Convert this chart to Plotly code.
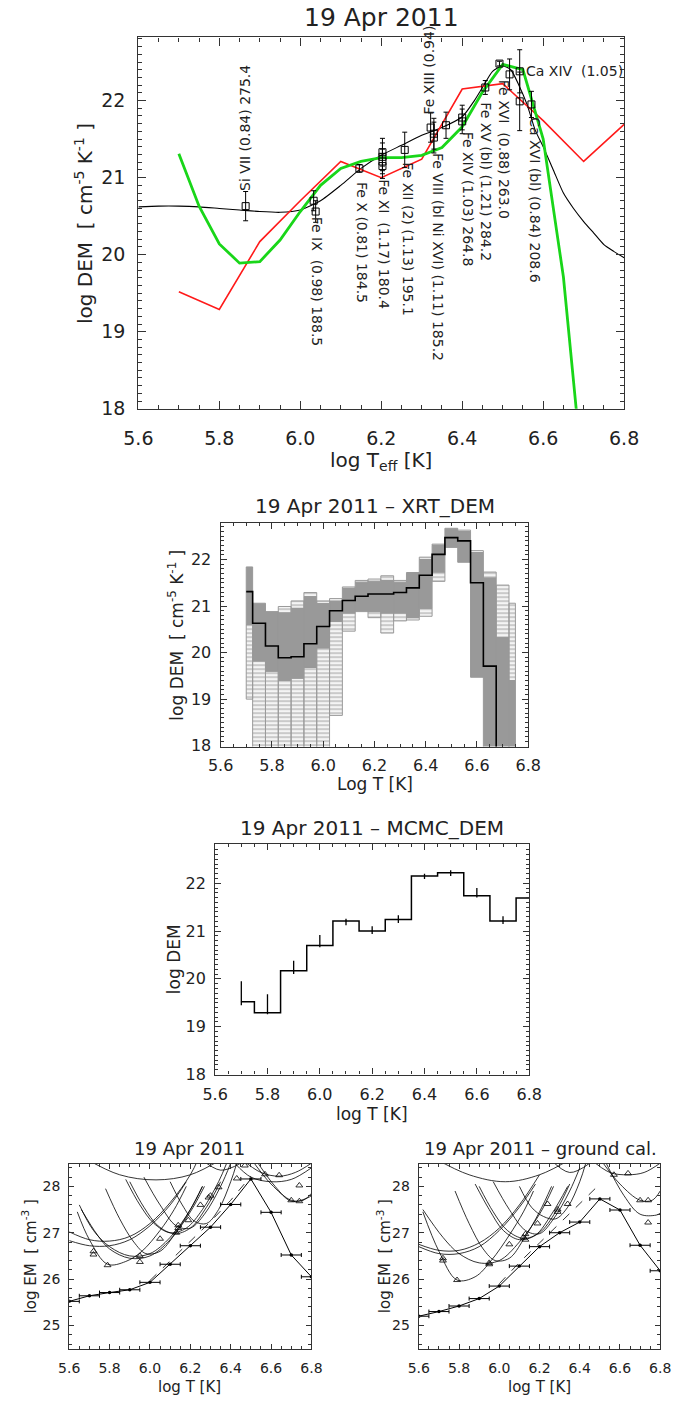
import numpy as np
import plotly.graph_objects as go

W, H = 686, 1405
FONT = "DejaVu Sans"
TXT = "#222222"
AX = "#333333"

def px(x):
    return x / W

def py(y):
    return 1 - y / H

# ---------------- Panel 1 : 19 Apr 2011 (DEM + lines) ----------------
curve_T = [5.60, 5.65, 5.70, 5.75, 5.80, 5.85, 5.90, 5.95, 6.00, 6.05, 6.10, 6.15, 6.20, 6.25,
           6.30, 6.35, 6.40, 6.43, 6.45, 6.475, 6.50, 6.52, 6.54, 6.56, 6.58, 6.60, 6.625, 6.65,
           6.675, 6.70, 6.725, 6.75, 6.775, 6.80]
curve_dem = [20.62, 20.63, 20.63, 20.62, 20.60, 20.58, 20.56, 20.55, 20.58, 20.70, 20.90, 21.12,
             21.29, 21.42, 21.55, 21.65, 21.79, 22.00, 22.17, 22.38, 22.45, 22.40, 22.20, 21.95,
             21.62, 21.40, 21.10, 20.80, 20.60, 20.43, 20.28, 20.13, 20.04, 19.96]

mcmc_T = [5.7, 5.8, 5.9, 6.0, 6.1, 6.2, 6.3, 6.4, 6.5, 6.6, 6.7, 6.8]
mcmc_dem = [19.52, 19.29, 20.17, 20.70, 21.21, 21.00, 21.24, 22.15, 22.22, 21.74, 21.21, 21.69]
mcmc_err_hi = [0.43, 0.39, 0.21, 0.22, 0.05, 0.10, 0.09, 0.05, 0.05, 0.16, 0.10, 0.0]
mcmc_err_lo = [0.07, 0.03, 0.07, 0.04, 0.09, 0.06, 0.07, 0.06, 0.07, 0.04, 0.06, 0.0]

xrt_T = [5.70, 5.75, 5.80, 5.85, 5.90, 5.95, 6.00, 6.05, 6.10, 6.15, 6.20, 6.25, 6.30, 6.35,
         6.40, 6.45, 6.50, 6.55, 6.60, 6.65, 6.70, 6.75]
xrt_dem = [21.31, 20.63, 20.14, 19.89, 19.91, 20.19, 20.56, 20.90, 21.12, 21.21, 21.26, 21.26,
           21.29, 21.39, 21.66, 22.11, 22.47, 22.40, 21.50, 19.71, 17.00, 16.50]
# Monte-Carlo spread of the XRT_DEM solutions per bin
xrt_mc_max = [21.84, 21.06, 20.88, 20.99, 21.11, 21.29, 21.11, 21.16, 21.41, 21.55, 21.58, 21.65,
              21.55, 21.72, 22.05, 22.33, 22.67, 22.63, 22.19, 21.73, 21.45, 21.06]
xrt_mc_dhi = [21.84, 21.06, 20.88, 20.85, 20.95, 21.20, 21.05, 21.10, 21.38, 21.50, 21.52, 21.55,
              21.50, 21.70, 22.00, 22.30, 22.65, 22.60, 22.15, 21.60, 20.32, 19.40]
xrt_mc_dlo = [20.60, 19.82, 19.60, 19.40, 19.45, 19.68, 20.10, 20.67, 20.85, 20.88, 20.88, 20.85,
              20.85, 20.75, 20.95, 21.73, 22.26, 21.94, 19.47, 17.90, 17.90, 17.90]
xrt_mc_min = [19.00, 17.90, 17.90, 17.90, 17.90, 17.90, 17.90, 18.65, 20.46, 20.88, 20.75, 20.42,
              20.68, 20.70, 20.78, 21.53, 22.26, 21.94, 19.47, 17.90, 17.90, 17.90]

obs_T = [5.865, 6.033, 6.038, 6.146, 6.203, 6.203, 6.203, 6.203, 6.258, 6.322, 6.330, 6.330,
         6.360, 6.400, 6.400, 6.457, 6.492, 6.517, 6.542, 6.542, 6.571]
obs_dem = [20.63, 20.70, 20.56, 21.12, 21.33, 21.27, 21.21, 21.15, 21.36, 21.65, 21.57, 21.52,
           21.68, 21.78, 21.73, 22.17, 22.48, 22.34, 22.38, 21.99, 21.95]
obs_err = [0.19, 0.13, 0.14, 0.05, 0.18, 0.18, 0.16, 0.16, 0.23, 0.19, 0.20, 0.20,
           0.17, 0.16, 0.16, 0.09, 0.03, 0.20, 0.28, 0.38, 0.17]

line_labels = ["Si VII (0.84) 275.4", "Fe IX  (0.98) 188.5", "Fe X (0.81) 184.5",
               "Fe XI  (1.17) 180.4", "Fe XII (2) (1.13) 195.1", "Fe XIII (0.94)",
               "Fe VIII (bl Ni XVI) (1.11) 185.2", "Fe XIV (1.03) 264.8",
               "Fe XV (bl) (1.21) 284.2", "Fe XVI  (0.88) 263.0", "Ca XIV  (1.05)",
               "Ca XVI (bl) (0.84) 208.6"]
label_T = [5.862, 6.040, 6.153, 6.207, 6.264, 6.318, 6.339, 6.413, 6.460, 6.505, 6.554, 6.578]
label_dem = [20.82, 20.50, 20.96, 20.99, 21.21, 21.80, 21.34, 21.61, 21.99, 22.28, 22.38, 21.80]
label_dir = ["up", "down", "down", "down", "down", "up", "down", "down", "down", "down",
             "right", "down"]

# ---------------- Panels 4/5 : EM loci ----------------
em_T = [5.6, 5.7, 5.8, 5.9, 6.0, 6.1, 6.2, 6.3, 6.4, 6.5, 6.6, 6.7, 6.8]
em_left = [25.52, 25.64, 25.71, 25.77, 25.93, 26.32, 26.72, 27.12, 27.61, 28.16, 27.44, 26.52, 26.05]
em_right = [25.20, 25.30, 25.42, 25.58, 25.85, 26.28, 26.70, 27.00, 27.23, 27.73, 27.49, 26.73, 26.18]

dash_T = [6.0, 6.1, 6.2, 6.3, 6.4, 6.5]
dash_left = [25.97, 26.40, 26.82, 27.24, 27.70, 28.22]
dash_right = [25.90, 26.36, 26.78, 27.20, 27.62, 28.05]

tri_T_left = [5.72, 5.72, 5.79, 5.95, 5.95, 6.05, 6.13, 6.14, 6.14, 6.19, 6.25, 6.29, 6.30, 6.34,
              6.43, 6.47, 6.57, 6.64, 6.70, 6.74, 6.74]
tri_em_left = [26.60, 26.53, 26.30, 26.50, 26.37, 26.87, 27.00, 27.10, 27.16, 27.27, 27.60, 27.76,
               27.80, 27.98, 28.17, 28.45, 28.26, 28.24, 27.70, 27.68, 28.02]
tri_T_right = [5.72, 5.72, 5.79, 5.95, 5.95, 6.05, 6.12, 6.13, 6.13, 6.19, 6.24, 6.29, 6.29, 6.34,
               6.57, 6.64, 6.70, 6.74, 6.74]
tri_em_right = [26.45, 26.40, 25.98, 26.35, 26.32, 26.75, 26.90, 26.97, 26.85, 27.20, 27.62, 27.50,
                27.45, 27.62, 28.25, 28.28, 27.70, 27.70, 27.22]

loci_left = [
    [(5.68, 28.6), (5.85, 28.25), (6.03, 28.14), (6.20, 28.25), (6.36, 28.6)],
    [(5.60, 27.02), (5.70, 26.85), (5.80, 26.82), (5.90, 26.92), (6.00, 27.20), (6.10, 27.65), (6.20, 28.25), (6.24, 28.6)],
    [(5.60, 26.83), (5.70, 26.72), (5.80, 26.72), (5.90, 26.85), (6.00, 27.15), (6.10, 27.60), (6.18, 28.10)],
    [(5.65, 27.60), (5.72, 27.05), (5.80, 26.70), (5.90, 26.50), (6.00, 26.55), (6.10, 26.90), (6.20, 27.50), (6.26, 28.00)],
    [(5.66, 27.50), (5.74, 26.95), (5.80, 26.65), (5.90, 26.45), (6.00, 26.50), (6.10, 26.85), (6.20, 27.45), (6.27, 28.00)],
    [(5.64, 27.45), (5.70, 26.85), (5.79, 26.32), (5.88, 26.38), (5.96, 26.60), (6.05, 27.05), (6.12, 27.50), (6.18, 28.00)],
    [(5.78, 27.95), (5.85, 27.30), (5.92, 26.80), (5.98, 26.55), (6.05, 26.60), (6.12, 26.95), (6.20, 27.50), (6.26, 28.00)],
    [(5.88, 28.15), (5.95, 27.60), (6.02, 27.20), (6.10, 27.00), (6.18, 27.10), (6.26, 27.50), (6.34, 28.10), (6.38, 28.5)],
    [(5.90, 28.10), (5.97, 27.55), (6.04, 27.15), (6.12, 26.98), (6.20, 27.10), (6.28, 27.55), (6.35, 28.10)],
    [(5.97, 28.20), (6.05, 27.60), (6.13, 27.15), (6.20, 27.10), (6.27, 27.40), (6.35, 28.00), (6.40, 28.5)],
    [(6.10, 28.10), (6.16, 27.60), (6.22, 27.25), (6.28, 27.20), (6.34, 27.50), (6.40, 28.10), (6.43, 28.5)],
    [(6.25, 28.6), (6.35, 28.35), (6.45, 28.5)],
    [(6.45, 28.6), (6.55, 28.30), (6.64, 28.22), (6.72, 28.30), (6.80, 28.50)],
    [(6.50, 28.6), (6.60, 28.05), (6.70, 27.70), (6.76, 27.70), (6.80, 27.85)],
    [(6.52, 28.6), (6.62, 28.00), (6.70, 27.68), (6.78, 27.75), (6.80, 27.80)],
    [(6.42, 28.5), (6.50, 28.20), (6.60, 28.10), (6.70, 28.15), (6.80, 28.40)],
]
loci_right = [
    [(5.68, 28.6), (5.85, 28.25), (6.03, 28.10), (6.20, 28.25), (6.36, 28.6)],
    [(5.60, 26.75), (5.70, 26.62), (5.80, 26.62), (5.90, 26.78), (6.00, 27.10), (6.10, 27.60), (6.20, 28.25)],
    [(5.60, 26.70), (5.70, 26.55), (5.80, 26.55), (5.90, 26.70), (6.00, 27.05), (6.10, 27.55), (6.18, 28.05)],
    [(5.62, 27.50), (5.72, 26.90), (5.80, 26.55), (5.90, 26.35), (6.00, 26.40), (6.10, 26.80), (6.20, 27.40), (6.27, 28.00)],
    [(5.62, 27.45), (5.70, 26.60), (5.79, 25.98), (5.88, 26.05), (5.96, 26.40), (6.05, 26.95), (6.12, 27.45), (6.17, 27.90)],
    [(5.78, 27.90), (5.85, 27.20), (5.92, 26.65), (5.98, 26.40), (6.05, 26.45), (6.12, 26.85), (6.20, 27.45), (6.26, 28.00)],
    [(5.88, 28.05), (5.95, 27.50), (6.02, 27.05), (6.10, 26.85), (6.18, 26.95), (6.26, 27.40), (6.34, 28.00)],
    [(5.90, 28.00), (5.97, 27.45), (6.04, 27.05), (6.12, 26.88), (6.20, 27.00), (6.28, 27.45), (6.35, 28.05)],
    [(5.97, 28.10), (6.05, 27.50), (6.13, 27.05), (6.20, 26.98), (6.27, 27.30), (6.35, 27.90), (6.40, 28.4)],
    [(6.10, 28.00), (6.16, 27.55), (6.22, 27.35), (6.28, 27.30), (6.34, 27.55), (6.40, 28.10), (6.43, 28.5)],
    [(6.25, 28.6), (6.35, 28.30), (6.45, 28.5)],
    [(6.45, 28.6), (6.55, 28.30), (6.64, 28.25), (6.72, 28.30), (6.80, 28.50)],
    [(6.50, 28.6), (6.60, 28.05), (6.70, 27.70), (6.76, 27.70), (6.80, 27.90)],
    [(6.52, 28.6), (6.62, 27.80), (6.70, 27.40), (6.78, 27.38), (6.80, 27.42)],
]

# ---------------- helpers ----------------
def edges(centers, lo, hi):
    c = np.array(centers, dtype=float)
    mids = (c[:-1] + c[1:]) / 2
    return np.concatenate([[lo], mids]), np.concatenate([mids, [hi]])


def boxes(left, right, a, b):
    xs, ys = [], []
    for l, r, y0, y1 in zip(left, right, a, b):
        if y1 <= y0:
            continue
        xs += [l, r, r, l, l, None]
        ys += [y0, y0, y1, y1, y0, None]
    return xs, ys


def axis(domain, rng, anchor, tick0, dtick, mdtick, tl, mtl, fs, standoff, fmt=None):
    d = dict(domain=domain, range=rng, anchor=anchor, tick0=tick0, dtick=dtick, ticks="inside",
             ticklen=tl, tickwidth=1, tickcolor=AX, showline=True, linecolor=AX,
             linewidth=1.2, mirror="allticks", showgrid=False, zeroline=False,
             tickfont=dict(family=FONT, size=fs, color=TXT), ticklabelstandoff=standoff,
             minor=dict(ticks="inside", ticklen=mtl, tick0=tick0, dtick=mdtick,
                        tickcolor=AX, tickwidth=1, showgrid=False))
    if fmt:
        d["tickformat"] = fmt
    return d


fig = go.Figure()

# ----- Panel 1 -----
fig.add_trace(go.Scatter(x=curve_T, y=curve_dem, mode="lines", line=dict(color="black", width=1.1, shape="spline", smoothing=0.6),
                         xaxis="x", yaxis="y", hoverinfo="skip"))
fig.add_trace(go.Scatter(x=mcmc_T, y=mcmc_dem, mode="lines", line=dict(color="#ff1a1a", width=1.6),
                         xaxis="x", yaxis="y", hoverinfo="skip"))
fig.add_trace(go.Scatter(x=xrt_T, y=xrt_dem, mode="lines", line=dict(color="#19d619", width=2.8),
                         xaxis="x", yaxis="y", hoverinfo="skip"))
fig.add_trace(go.Scatter(x=obs_T, y=obs_dem, mode="markers",
                         marker=dict(symbol="square-open", size=7, color="black", line=dict(width=1)),
                         error_y=dict(type="data", array=obs_err, width=2.5, thickness=1, color="black"),
                         xaxis="x", yaxis="y", hoverinfo="skip"))

annotations = []
for txt_, t, d, dr in zip(line_labels, label_T, label_dem, label_dir):
    a = dict(x=t, y=d, xref="x", yref="y", text=txt_, showarrow=False, borderpad=0,
             font=dict(family=FONT, size=14, color=TXT))
    if dr == "down":
        a.update(textangle=90, xanchor="center", yanchor="top")
    elif dr == "up":
        a.update(textangle=-90, xanchor="center", yanchor="bottom")
    else:
        a.update(textangle=0, xanchor="left", yanchor="middle")
    annotations.append(a)

# ----- Panel 2 : XRT_DEM -----
xl, xr = edges(xrt_T, 5.70, 6.75)
stripes = dict(shape="-", fgcolor="#969696", bgcolor="white", size=4, solidity=0.6)
bx, by = boxes(xl, xr, xrt_mc_min, xrt_mc_dlo)
fig.add_trace(go.Scatter(x=bx, y=by, mode="lines", fill="toself", fillpattern=stripes,
                         line=dict(color="#9a9a9a", width=1), xaxis="x2", yaxis="y2", hoverinfo="skip"))
bx, by = boxes(xl, xr, xrt_mc_dhi, xrt_mc_max)
fig.add_trace(go.Scatter(x=bx, y=by, mode="lines", fill="toself", fillpattern=stripes,
                         line=dict(color="#9a9a9a", width=1), xaxis="x2", yaxis="y2", hoverinfo="skip"))
bx, by = boxes(xl, xr, xrt_mc_dlo, xrt_mc_dhi)
fig.add_trace(go.Scatter(x=bx, y=by, mode="lines", fill="toself", fillcolor="#999999",
                         line=dict(color="#999999", width=1), xaxis="x2", yaxis="y2", hoverinfo="skip"))
fig.add_trace(go.Scatter(x=list(xl) + [xr[-1]], y=xrt_dem + [xrt_dem[-1]], mode="lines",
                         line=dict(color="black", width=1.6, shape="hv"), xaxis="x2", yaxis="y2", hoverinfo="skip"))

# ----- Panel 3 : MCMC_DEM -----
ml, mr = edges(mcmc_T, 5.70, 6.80)
fig.add_trace(go.Scatter(x=list(ml) + [mr[-1]], y=mcmc_dem + [mcmc_dem[-1]], mode="lines",
                         line=dict(color="black", width=1.5, shape="hv"), xaxis="x3", yaxis="y3", hoverinfo="skip"))
fig.add_trace(go.Scatter(x=mcmc_T[:-1], y=mcmc_dem[:-1], mode="markers", marker=dict(size=1, color="black"),
                         error_y=dict(type="data", symmetric=False, array=mcmc_err_hi[:-1],
                                      arrayminus=mcmc_err_lo[:-1], width=0, thickness=1.3, color="black"),
                         xaxis="x3", yaxis="y3", hoverinfo="skip"))

# ----- Panels 4 and 5 : EM loci -----
for loci, em, tT, tE, dE, xa, ya in [(loci_left, em_left, tri_T_left, tri_em_left, dash_left, "x4", "y4"),
                                      (loci_right, em_right, tri_T_right, tri_em_right, dash_right, "x5", "y5")]:
    for c in loci:
        fig.add_trace(go.Scatter(x=[p[0] for p in c], y=[p[1] for p in c], mode="lines",
                                 line=dict(color="black", width=0.8, shape="spline", smoothing=1.0),
                                 xaxis=xa, yaxis=ya, hoverinfo="skip"))
    fig.add_trace(go.Scatter(x=dash_T, y=dE, mode="lines", line=dict(color="black", width=0.8, dash="dash"),
                             xaxis=xa, yaxis=ya, hoverinfo="skip"))
    fig.add_trace(go.Scatter(x=em_T, y=em, mode="lines+markers", line=dict(color="black", width=1),
                             marker=dict(size=3.5, color="black"),
                             error_x=dict(type="constant", value=0.05, width=2, thickness=1, color="black"),
                             xaxis=xa, yaxis=ya, hoverinfo="skip"))
    fig.add_trace(go.Scatter(x=tT, y=tE, mode="markers",
                             marker=dict(symbol="triangle-up-open", size=6, color="black", line=dict(width=0.8)),
                             xaxis=xa, yaxis=ya, hoverinfo="skip"))

# ---------------- layout ----------------
P1 = dict(x=[px(129), px(637)], y=[py(412), py(37.7)])
P2 = dict(x=[px(215), px(536.7)], y=[py(752.5), py(527.3)])
P3 = dict(x=[px(209.3), px(537.7)], y=[py(1083), py(850.7)])
P4 = dict(x=[px(56.7), px(310)], y=[py(1359.3), py(1173.3)])
P5 = dict(x=[px(422.3), px(674.7)], y=[py(1359.3), py(1173.3)])

layout = dict(
    width=W, height=H, margin=dict(l=0, r=0, t=0, b=0), paper_bgcolor="white", plot_bgcolor="white",
    showlegend=False,
    xaxis=axis(P1["x"], [5.6, 6.8], "y", 5.6, 0.2, 0.05, 8, 4, 19, 12, ".1f"),
    yaxis=axis(P1["y"], [18, 22.82], "x", 18, 1, 0.1, 8, 4, 19, 8),
    xaxis2=axis(P2["x"], [5.6, 6.8], "y2", 5.6, 0.2, 0.05, 6, 3, 16, 4, ".1f"),
    yaxis2=axis(P2["y"], [17.98, 22.78], "x2", 18, 1, 0.1, 6, 3, 16, 5),
    xaxis3=axis(P3["x"], [5.6, 6.8], "y3", 5.6, 0.2, 0.05, 6, 3, 16, 5, ".1f"),
    yaxis3=axis(P3["y"], [18, 22.82], "x3", 18, 1, 0.1, 6, 3, 16, 5),
    xaxis4=axis(P4["x"], [5.6, 6.8], "y4", 5.6, 0.2, 0.05, 5, 3, 14, 6, ".1f"),
    yaxis4=axis(P4["y"], [24.5, 28.48], "x4", 25, 1, 0.2, 5, 3, 14, 5),
    xaxis5=axis(P5["x"], [5.6, 6.8], "y5", 5.6, 0.2, 0.05, 5, 3, 14, 6, ".1f"),
    yaxis5=axis(P5["y"], [24.5, 28.48], "x5", 25, 1, 0.2, 5, 3, 14, 5),
)


def txt(x, y, s, size, angle=0):
    return dict(x=px(x), y=py(y), xref="paper", yref="paper", text=s, showarrow=False,
                textangle=angle, xanchor="center", yanchor="middle", borderpad=0,
                font=dict(family=FONT, size=size, color=TXT))

annotations += [
    txt(383, 18, "19 Apr 2011", 25),
    txt(383, 465, "log T<sub>eff</sub> [K]", 20),
    txt(72, 225, "log DEM  [ cm<sup>-5</sup> K<sup>-1</sup> ]", 20, -90),
    txt(376, 510, "19 Apr 2011 \u2013 XRT_DEM", 20),
    txt(376, 790, "Log T [K]", 17),
    txt(168, 640, "log DEM  [ cm<sup>-5</sup> K<sup>-1</sup> ]", 17, -90),
    txt(373, 835, "19 Apr 2011 \u2013 MCMC_DEM", 20),
    txt(373, 1123, "log T [K]", 17),
    txt(167, 967, "log DEM", 17, -90),
    txt(182, 1158, "19 Apr 2011", 18),
    txt(182, 1398, "log T [K]", 15),
    txt(15, 1266, "log EM  [ cm<sup>-3</sup> ]", 15, -90),
    txt(550, 1158, "19 Apr 2011 \u2013 ground cal.", 18),
    txt(548, 1398, "log T [K]", 15),
    txt(386, 1266, "log EM  [ cm<sup>-3</sup> ]", 15, -90),
]
layout["annotations"] = annotations
fig.update_layout(**layout)
fig.write_html("out.html")
